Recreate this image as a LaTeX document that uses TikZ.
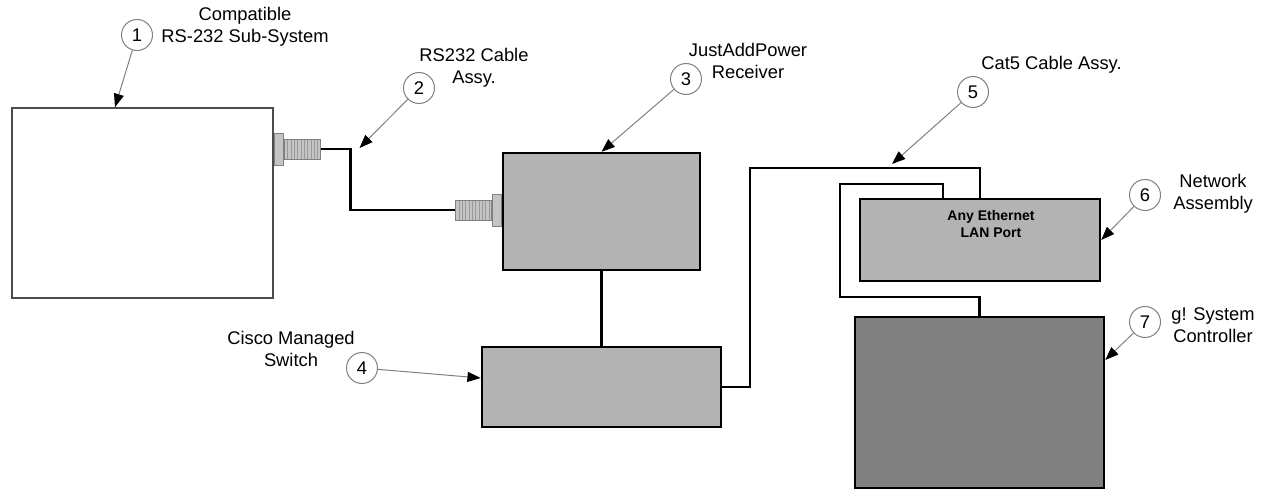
\documentclass[tikz,border=0pt]{standalone}
\usepackage{fontspec}
\setmainfont{Liberation Sans}
\usetikzlibrary{arrows.meta}
\definecolor{boxgray}{RGB}{179,179,179}
\definecolor{darkbox}{RGB}{128,128,128}
\definecolor{plugfill}{RGB}{196,196,196}
\definecolor{leader}{RGB}{128,128,128}

\begin{document}
\begin{tikzpicture}[x=0.6pt, y=-0.6pt,
    unit/.style={rectangle, draw=black, line width=1.5pt, fill=boxgray, inner sep=0pt},
    cable/.style={line width=1.5pt, black},
    num/.style={circle, draw=leader, fill=white, line width=0.6pt,
                minimum size=18.6pt, inner sep=0pt, font=\fontsize{11}{13.2}\selectfont},
    lbl/.style={align=center, font=\fontsize{11}{13.2}\selectfont, inner sep=0pt},
    arr/.style={-{Triangle[length=8pt, width=6pt, black]}, leader, line width=0.6pt},
    flange/.style={rectangle, draw=gray, fill=plugfill, line width=0.5pt,
                   minimum width=5.4pt, minimum height=19.2pt, inner sep=0pt},
    thread/.style={rectangle, draw=gray, fill=plugfill, line width=0.5pt,
                   minimum width=21.6pt, minimum height=12pt, inner sep=0pt,
                   path picture={\foreach \k in {1,...,10}
                     \draw[gray!80, line width=0.3pt]
                       ([xshift=\k*2pt]path picture bounding box.south west) --
                       ([xshift=\k*2pt]path picture bounding box.north west);}}
  ]
    \useasboundingbox (0,0) rectangle (1265,491);

    % units
    \node[unit, fill=white, draw=black!70, line width=1pt,
          minimum width=156.6pt, minimum height=114pt] (rs)  at (142.5,203) {};
    \node[unit, minimum width=118.2pt, minimum height=70.2pt]   (jap) at (601.5,211.5) {};
    \node[unit, minimum width=143.4pt, minimum height=48pt]     (sw)  at (601.5,387) {};
    \node[unit, minimum width=144pt, minimum height=49.2pt]     (net) at (980,240) {};
    \node[unit, fill=darkbox, minimum width=149.4pt, minimum height=102.6pt] (gc) at (979.5,402.5) {};
    \node[font=\fontsize{8.4}{10.2}\selectfont\bfseries, align=center, inner sep=0pt]
          (lan) at ([xshift=6.6pt, yshift=9.9pt]net.center) {Any Ethernet\\LAN Port};

    % RS232 plugs
    \node[flange, anchor=west] (fl1) at ([yshift=32.4pt]rs.east) {};
    \node[thread, anchor=west] (th1) at (fl1.east) {};
    \node[flange, anchor=east] (fl2) at ([yshift=0.9pt]jap.west) {};
    \node[thread, anchor=east] (th2) at (fl2.west) {};

    % cables
    \draw[cable] (th1.east) -- ++(30,0) coordinate (bend) |- (th2.west);
    \draw[cable] (jap.south) -- (sw.north);
    \coordinate (loopA) at (750,168);
    \coordinate (loopB) at (840,184);
    \coordinate (loopC) at (840,297);
    \draw[cable] (sw.east) -| (loopA) -| (net.north);
    \draw[cable] ([xshift=-22.2pt]net.north) |- (loopB) -- (loopC) -| (gc.north);

    % callouts
    \node[num] (n1) at (137,35)  {1};
    \node[num] (n2) at (419,88)  {2};
    \node[num] (n3) at (686,79)  {3};
    \node[num] (n4) at (362,368) {4};
    \node[num] (n5) at (973,92)  {5};
    \node[num] (n6) at (1145,195) {6};
    \node[num] (n7) at (1145,322) {7};

    \node[lbl] (t1) at (245,27)  {Compatible\\RS-232 Sub-System};
    \node[lbl] (t2) at (474,68)  {RS232 Cable\\Assy.};
    \node[lbl] (t3) at (748,61)  {JustAddPower\\Receiver};
    \node[lbl] (t4) at (291,349) {Cisco Managed\\Switch};
    \node[lbl, anchor=west] (t5) at (981,65) {Cat5 Cable Assy.};
    \node[lbl] (t6) at (1213,194) {Network\\Assembly};
    \node[lbl] (t7) at (1213,325) {g! System\\Controller};

    \draw[arr] (n1) -- ([xshift=-16.5pt]rs.north);
    \draw[arr] (n2) -- ([shift={(5.4pt,0.6pt)}]bend);
    \draw[arr] (n3) -- (jap.north);
    \draw[arr] (n4) -- ([yshift=5.4pt]sw.west);
    \draw[arr] (n5) -- ([xshift=85.2pt, yshift=2.4pt]loopA);
    \draw[arr] (n6) -- (net.east);
    \draw[arr] (n7) -- ([yshift=25.5pt]gc.east);
\end{tikzpicture}
\end{document}
